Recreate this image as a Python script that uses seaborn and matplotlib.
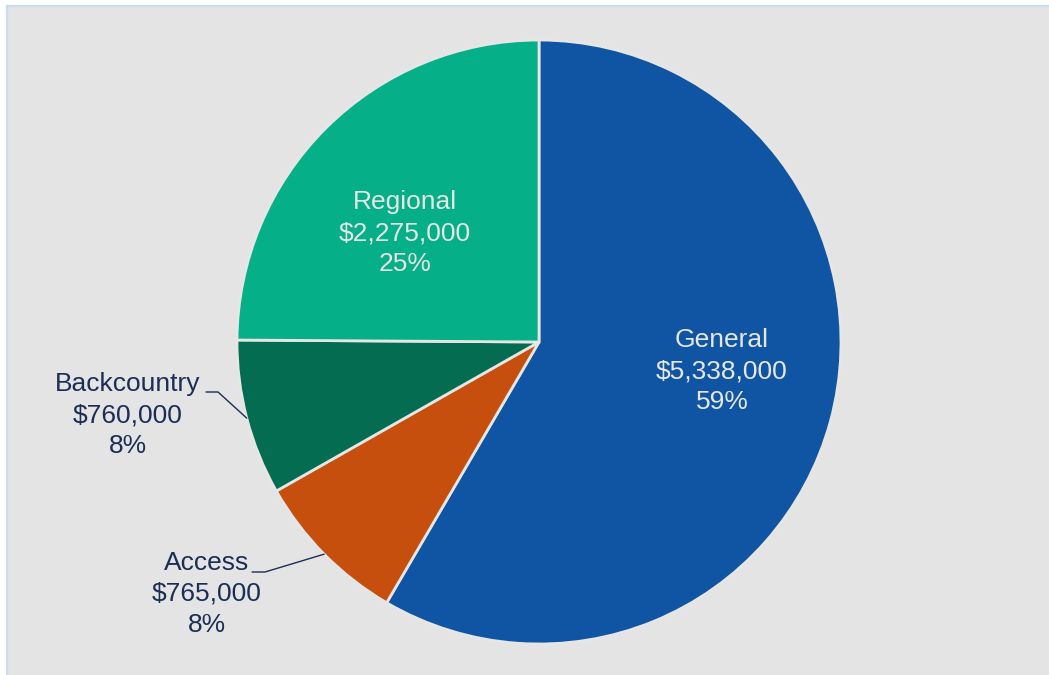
import numpy as np
import matplotlib
matplotlib.use("Agg")
import matplotlib.pyplot as plt
from matplotlib.patches import Rectangle
import seaborn as sns

# Funding by program
categories = ["General", "Access", "Backcountry", "Regional"]
amounts = [5338000, 765000, 760000, 2275000]
amount_labels = ["$5,338,000", "$765,000", "$760,000", "$2,275,000"]
pct_labels = ["59%", "8%", "8%", "25%"]

sns.set_theme(style="white")
plt.rcParams["font.family"] = ["Liberation Sans", "DejaVu Sans"]

colors = sns.color_palette(["#1055A3", "#C64F0E", "#046C50", "#05AF88"])

W, H = 1049, 675
fig = plt.figure(figsize=(W / 100, H / 100), dpi=100, facecolor="white")
ax = fig.add_axes([0, 0, 1, 1])
ax.set_xlim(0, W)
ax.set_ylim(0, H)
ax.set_aspect("equal")
ax.axis("off")

# panel background with thin border
ax.add_patch(Rectangle((6.5, -5), W + 10, H - 5.5 + 5, facecolor="#E4E4E4",
                       edgecolor="#CCDAF2", linewidth=1.6, zorder=0))

cx, cy, r = 539, H - 342, 302
wedges, _ = ax.pie(amounts, colors=colors, startangle=90, counterclock=False,
                   center=(cx, cy), radius=r, frame=True,
                   wedgeprops=dict(edgecolor="#E6E6E6", linewidth=2.0))
ax.set_xlim(0, W)
ax.set_ylim(0, H)
ax.axis("off")

text_kw = dict(fontsize=19, ha="center", va="center", linespacing=1.36)

def label(i):
    return f"{categories[i]}\n{amount_labels[i]}\n{pct_labels[i]}"

# labels inside the large slices
ax.text(722, H - 371, label(0), color="#E6E6E6", **text_kw)
ax.text(405, H - 233, label(3), color="#E6E6E6", **text_kw)

# outside labels with leader lines for the small slices
navy = "#1C2E55"
outside = {1: ((207, 594), (252, 572), (265, 572)),
           2: ((128, 415), (206, 392), (218, 392))}
for i, (txt_pos, start, elbow) in outside.items():
    ax.text(txt_pos[0], H - txt_pos[1], label(i), color=navy, **text_kw)
    w = wedges[i]
    mid = np.deg2rad((w.theta1 + w.theta2) / 2)
    ex, ey = cx + r * np.cos(mid), cy + r * np.sin(mid)
    ax.plot([start[0], elbow[0], ex], [H - start[1], H - elbow[1], ey],
            color=navy, linewidth=1.0, zorder=5)

fig.savefig("out.png", dpi=100, facecolor="white")
